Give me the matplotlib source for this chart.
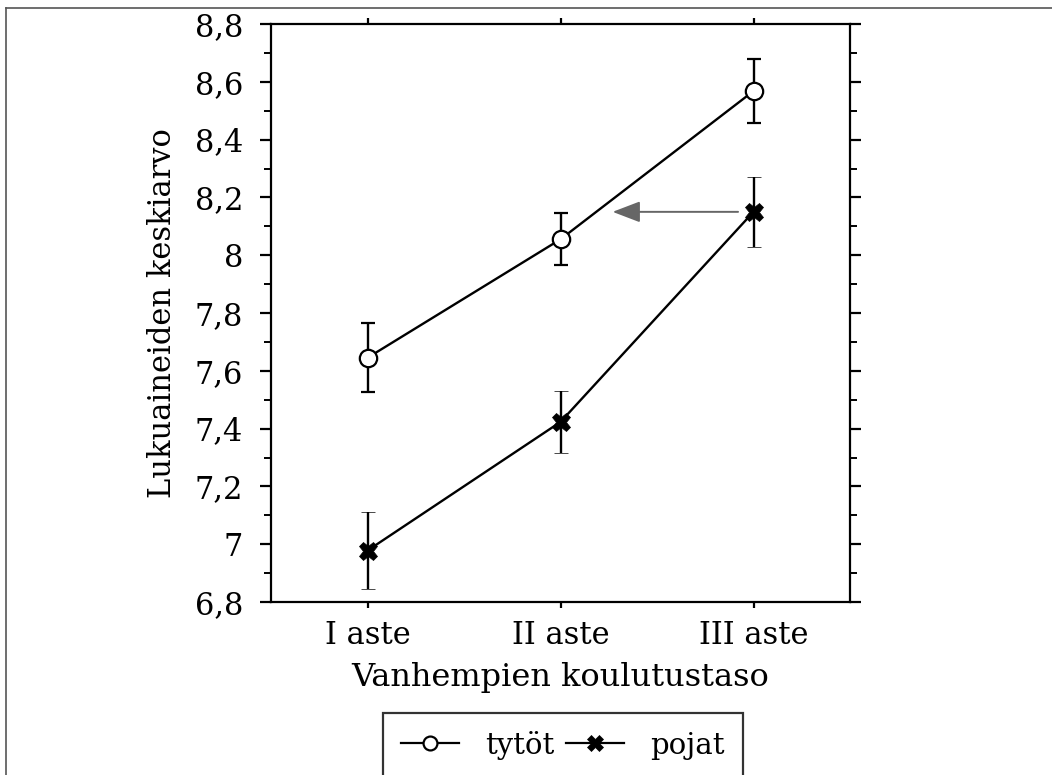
import matplotlib
matplotlib.use('Agg')
import matplotlib.pyplot as plt
from matplotlib.lines import Line2D
from matplotlib.ticker import MultipleLocator, FuncFormatter

# Data
categories = ['I aste', 'II aste', 'III aste']
tytot_mean = [7.645, 8.055, 8.568]
tytot_err = [0.12, 0.09, 0.11]
pojat_mean = [6.978, 7.423, 8.15]
pojat_err = [0.133, 0.108, 0.12]

plt.rcParams['font.family'] = ['DejaVu Serif']

fig = plt.figure(figsize=(10.52, 7.75), dpi=100)
ax = fig.add_axes([271 / 1052, 1 - 602 / 775, 579 / 1052, 578 / 775])

x = list(range(len(categories)))

# tytöt: open circles
ax.errorbar(x, tytot_mean, yerr=tytot_err, color='black', lw=1.7,
            elinewidth=1.7, capsize=5, capthick=1.7,
            marker='o', markersize=12.5, markerfacecolor='white',
            markeredgecolor='black', markeredgewidth=1.6, zorder=3)

# pojat: bold crosses
ax.errorbar(x, pojat_mean, yerr=pojat_err, color='black', lw=1.7,
            elinewidth=1.7, capsize=5, capthick=1.7,
            marker='X', markersize=13, markerfacecolor='black',
            markeredgecolor='black', markeredgewidth=0.5, zorder=3)

# gray arrow from pojat III towards tytöt line
ax.annotate('', xy=(1.27, pojat_mean[2]), xytext=(1.92, pojat_mean[2]),
            arrowprops=dict(arrowstyle='-|>,head_length=1.7,head_width=0.65',
                            color='#666666', lw=1.4, shrinkA=0, shrinkB=0))

ax.set_xlim(-0.5, 2.5)
ax.set_ylim(6.8, 8.8)
ax.set_xticks(x)
ax.set_xticklabels(categories)
ax.yaxis.set_major_locator(MultipleLocator(0.2))
ax.yaxis.set_minor_locator(MultipleLocator(0.1))
ax.yaxis.set_major_formatter(FuncFormatter(lambda v, p: ('%g' % round(v, 1)).replace('.', ',')))

for s in ax.spines.values():
    s.set_linewidth(1.6)

ax.tick_params(axis='y', which='major', direction='out', length=8, width=1.6,
               labelsize=22, left=True, right=True, pad=12)
ax.tick_params(axis='y', which='minor', direction='out', length=5, width=1.4,
               left=True, right=True)
ax.tick_params(axis='x', which='major', direction='out', length=4, width=1.6,
               labelsize=22, top=True, bottom=True, pad=9)

ax.set_xlabel('Vanhempien koulutustaso', fontsize=23, labelpad=8)
ax.set_ylabel('Lukuaineiden keskiarvo', fontsize=22, labelpad=12)

# legend at the bottom, box running off the figure edge
handles = [
    Line2D([], [], color='black', lw=1.6, marker='o', markersize=10,
           markerfacecolor='white', markeredgecolor='black', markeredgewidth=1.6),
    Line2D([], [], color='black', lw=1.6, marker='X', markersize=11,
           markerfacecolor='black', markeredgecolor='black', markeredgewidth=0.5),
]
leg = fig.legend(handles, ['tytöt', 'pojat'], loc='upper left',
                 bbox_to_anchor=(383 / 1052, 1 - 713 / 775), ncol=2,
                 fontsize=21, frameon=True, fancybox=False, borderpad=0.6,
                 handlelength=2.0, handletextpad=0.9, columnspacing=0.4,
                 borderaxespad=0)
leg.get_frame().set_edgecolor('black')
leg.get_frame().set_linewidth(1.6)

# outer thin gray border (top and left)
fig.add_artist(Line2D([6 / 1052, 1], [1 - 8 / 775, 1 - 8 / 775],
                      color='#555555', lw=1.2, transform=fig.transFigure))
fig.add_artist(Line2D([6 / 1052, 6 / 1052], [0, 1 - 8 / 775],
                      color='#555555', lw=1.2, transform=fig.transFigure))

fig.savefig('out.png', dpi=100)
